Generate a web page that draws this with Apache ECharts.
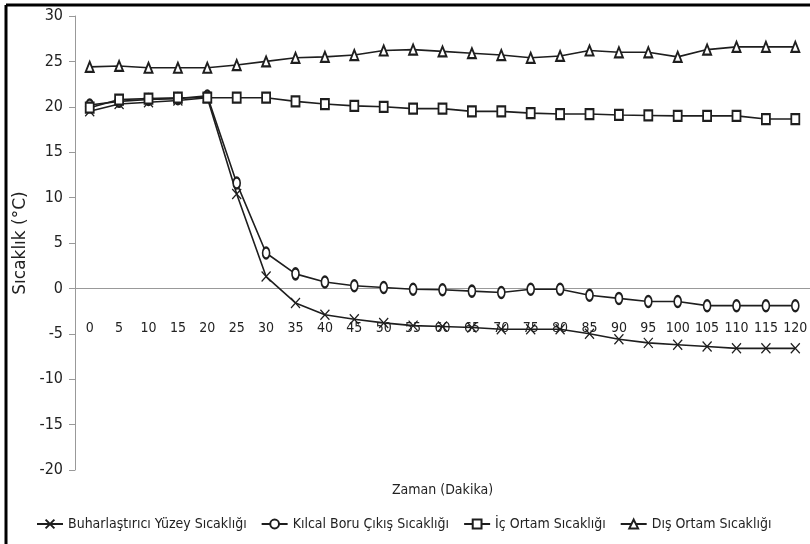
<!DOCTYPE html>
<html>
<head>
<meta charset="utf-8">
<script src="https://cdn.jsdelivr.net/npm/echarts@6/dist/echarts.min.js"></script>
<style>html,body{margin:0;padding:0;background:#fff}#c{width:810px;height:544px}</style>
</head>
<body>
<div id="c"></div>
<script>
const categories = ['0','5','10','15','20','25','30','35','40','45','50','55','60','65','70','75','80','85','90','95','100','105','110','115','120'];
const buharlastirici = [19.5, 20.3, 20.5, 20.7, 21.0, 10.4, 1.3, -1.6, -2.9, -3.4, -3.8, -4.1, -4.2, -4.3, -4.5, -4.5, -4.5, -5.0, -5.6, -6.0, -6.2, -6.4, -6.6, -6.6, -6.6];
const kilcal = [20.2, 20.6, 20.8, 20.9, 21.2, 11.6, 3.9, 1.6, 0.7, 0.3, 0.1, -0.1, -0.15, -0.3, -0.45, -0.1, -0.1, -0.75, -1.1, -1.45, -1.45, -1.9, -1.9, -1.9, -1.9];
const icOrtam = [19.9, 20.8, 20.9, 21.0, 21.0, 21.0, 21.0, 20.6, 20.3, 20.1, 20.0, 19.8, 19.8, 19.5, 19.5, 19.3, 19.2, 19.2, 19.1, 19.05, 19.0, 19.0, 19.0, 18.65, 18.65];
const disOrtam = [24.4, 24.5, 24.3, 24.3, 24.3, 24.6, 25.0, 25.4, 25.5, 25.7, 26.2, 26.3, 26.1, 25.9, 25.7, 25.4, 25.6, 26.2, 26.0, 26.0, 25.5, 26.3, 26.6, 26.6, 26.6];
const seriesNames = ['Buharlaştırıcı Yüzey Sıcaklığı', 'Kılcal Boru Çıkış Sıcaklığı', 'İç Ortam Sıcaklığı', 'Dış Ortam Sıcaklığı'];

const FONT = '"Liberation Sans Narrow", "DejaVu Sans Condensed", sans-serif';
const LINE = '#1e1e1e';
function mk(name, data, symbol, size) {
  return {
    name: name, type: 'line', data: data,
    symbol: symbol, symbolSize: size, showAllSymbol: true,
    lineStyle: { color: LINE, width: 1.6 },
    itemStyle: { color: LINE, borderColor: LINE, borderWidth: 1.3 },
    emphasis: { disabled: true },
    animation: false
  };
}
const chart = echarts.init(document.getElementById('c'), null, { renderer: 'canvas' });
chart.setOption({
  backgroundColor: '#fff',
  animation: false,
  textStyle: { fontFamily: FONT },
  grid: { left: 75, right: 0, top: 16, bottom: 74, containLabel: false, outerBoundsMode: 'none' },
  xAxis: {
    type: 'category', data: categories, boundaryGap: true,
    axisLine: { onZero: true, lineStyle: { color: '#999', width: 1 } },
    axisTick: { show: false },
    axisLabel: { margin: -149, color: '#222', fontSize: 14, fontFamily: FONT, interval: 0 },
    name: 'Zaman (Dakika)', nameLocation: 'middle', nameGap: 13,
    nameTextStyle: { color: '#222', fontSize: 14, fontFamily: FONT },
    splitLine: { show: false }
  },
  yAxis: {
    type: 'value', min: -20, max: 30, interval: 5,
    axisLine: { show: true, onZero: false, lineStyle: { color: '#999', width: 1 } },
    axisTick: { show: true, length: 6, lineStyle: { color: '#999' } },
    axisLabel: { margin: 12, color: '#222', fontSize: 16, fontFamily: FONT },
    splitLine: { show: false },
    name: 'Sıcaklık (°C)', nameLocation: 'middle', nameGap: 44, nameRotate: 90,
    nameTextStyle: { color: '#222', fontSize: 17, fontFamily: '"DejaVu Sans", sans-serif' }
  },
  legend: {
    left: 31, bottom: 8, itemWidth: 26, itemHeight: 11, itemGap: 14,
    textStyle: { color: '#222', fontSize: 14, fontFamily: FONT },
    data: seriesNames
  },
  series: [
    mk(seriesNames[0], buharlastirici, 'path://M0,0L10,10M10,0L0,10', [9, 10]),
    mk(seriesNames[1], kilcal, 'emptyCircle', [7, 11]),
    mk(seriesNames[2], icOrtam, 'emptyRect', [8, 10]),
    mk(seriesNames[3], disOrtam, 'emptyTriangle', [8, 10])
  ],
  graphic: [
    { type: 'line', shape: { x1: 6, y1: 5, x2: 810, y2: 5 }, style: { stroke: '#000', lineWidth: 3 }, z: 100 },
    { type: 'line', shape: { x1: 6, y1: 5, x2: 6, y2: 544 }, style: { stroke: '#000', lineWidth: 3 }, z: 100 }
  ]
});
</script>
</body>
</html>
